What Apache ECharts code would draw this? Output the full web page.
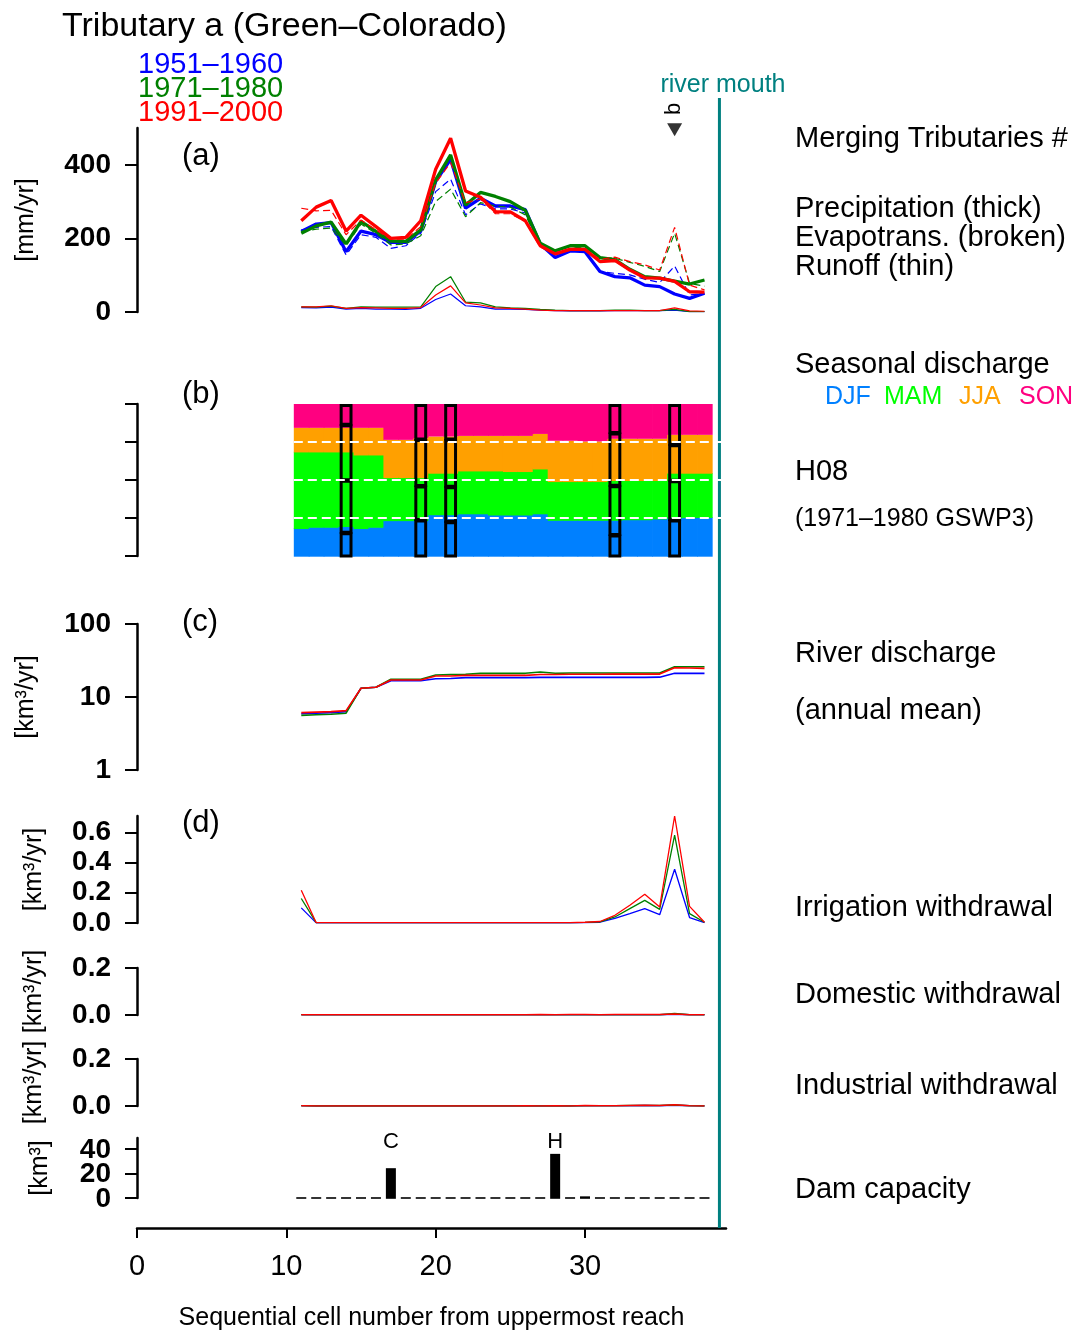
<!DOCTYPE html>
<html><head><meta charset="utf-8">
<script src="https://cdn.jsdelivr.net/npm/echarts@6/dist/echarts.min.js"></script>
<style>html,body{margin:0;padding:0;background:#fff}#c{width:1077px;height:1333px}</style>
</head><body><div id="c"></div>
<script>
// ---------------- DATA ----------------
const cells = [11,12,13,14,15,16,17,18,19,20,21,22,23,24,25,26,27,28,29,30,31,32,33,34,35,36,37,38];
const periods = ['1951–1960','1971–1980','1991–2000'];
const periodColors = ['#0000FF','#008000','#FF0000'];

// (a) precipitation [mm/yr]
const precip5160 = [219,239,243,164,220,210,189,189,220,355,415,282,309,288,288,278,185,148,166,164,110,96,93,73,69,49,37,51];
const precip7180 = [214,234,244,185,246,219,193,192,223,359,427,291,325,314,300,276,187,166,180,180,148,142,116,96,92,84,76,87];
const precip9100 = [248,285,303,220,263,232,200,203,248,388,472,329,312,273,272,248,180,158,170,170,137,140,114,93,92,83,55,54];
// (a) evapotranspiration [mm/yr]
const et5160 = [223,230,232,155,210,203,173,180,214,327,361,264,294,280,280,269,178,155,167,167,110,105,101,89,80,125,46,51];
const et7180 = [219,225,228,180,239,214,182,185,207,300,334,259,297,288,285,264,182,164,178,173,149,146,135,124,110,214,78,70];
const et9100 = [282,275,276,210,250,223,198,198,232,350,406,297,307,267,267,246,176,160,173,171,143,149,137,128,114,230,73,60];
// (a) runoff [mm/yr]
const runoff5160 = [12,11,13,8,10,8,8,7,10,34,49,17,14,8,8,7,5,4,3,3,3,4,4,4,4,5,1,1];
const runoff7180 = [14,13,16,10,14,13,13,13,14,69,96,27,25,14,11,10,7,5,4,4,4,5,5,4,4,7,1,1];
const runoff9100 = [14,14,17,10,12,11,10,10,12,46,71,25,19,11,10,8,5,4,4,4,4,4,4,4,4,11,3,2];

// (b) seasonal discharge shares (H08, 1971–1980 GSWP3)
const seasons = ['DJF','MAM','JJA','SON'];
const seasonColors = ['#0080FF','#00FF00','#FFA000','#FF0080'];
const shareDJF = [.183,.190,.190,.195,.183,.190,.234,.234,.234,.273,.273,.279,.279,.271,.271,.271,.279,.236,.236,.236,.236,.236,.240,.240,.245,.251,.255,.255];
const shareMAM = [.503,.496,.496,.491,.483,.476,.283,.283,.283,.273,.273,.282,.282,.290,.286,.286,.295,.255,.255,.255,.255,.262,.258,.258,.253,.295,.291,.291];
const shareJJA = [.157,.157,.157,.157,.177,.177,.247,.247,.258,.240,.240,.229,.229,.229,.233,.233,.229,.267,.267,.262,.262,.273,.273,.273,.273,.251,.251,.251];
const shareSON = [.157,.157,.157,.157,.157,.157,.236,.236,.225,.214,.214,.210,.210,.210,.210,.210,.197,.242,.242,.247,.247,.229,.229,.229,.229,.203,.203,.203];
// (b) observed shares at gauging cells (black boxes)
const obsCells = [14,19,21,32,36];
const obsDJF = [.157,.240,.229,.142,.240];
const obsMAM = [.345,.223,.230,.323,.258];
const obsJJA = [.365,.306,.310,.347,.238];
const obsSON = [.133,.231,.231,.188,.264];
const shareRefLines = [0.25,0.5,0.75];

// (c) river discharge [km3/yr]
const disch5160 = [5.9,6.0,6.1,6.3,13.2,13.6,16.7,16.7,16.7,17.8,17.9,18.4,18.4,18.4,18.4,18.4,18.6,18.6,18.6,18.6,18.6,18.6,18.6,18.6,18.7,21.1,21.1,21.1];
const disch7180 = [5.6,5.7,5.8,6.0,13.2,13.6,17.5,17.5,17.5,20.0,20.3,20.5,21.1,21.1,21.1,21.1,22.0,21.1,21.3,21.3,21.3,21.3,21.3,21.3,21.3,26.0,26.0,26.0];
const disch9100 = [6.1,6.2,6.3,6.5,13.2,13.6,17.1,17.1,17.1,19.4,19.4,19.8,19.8,19.8,19.8,19.8,20.3,20.3,20.5,20.5,20.5,20.6,20.6,20.6,20.6,25.2,25.0,24.7];

// (d) withdrawals [km3/yr]
const irr5160 = [0.100,0.001,0.001,0.001,0.001,0.001,0.001,0.001,0.001,0.001,0.001,0.001,0.001,0.001,0.001,0.001,0.001,0.001,0.001,0.002,0.005,0.030,0.062,0.095,0.055,0.356,0.036,0.003];
const irr7180 = [0.162,0.002,0.002,0.002,0.002,0.002,0.002,0.002,0.002,0.002,0.002,0.002,0.002,0.002,0.002,0.002,0.002,0.002,0.002,0.004,0.008,0.040,0.095,0.150,0.090,0.582,0.062,0.005];
const irr9100 = [0.217,0.002,0.002,0.002,0.002,0.002,0.002,0.002,0.002,0.002,0.002,0.002,0.002,0.002,0.002,0.002,0.002,0.002,0.002,0.005,0.010,0.051,0.117,0.190,0.106,0.708,0.110,0.005];
const dom5160 = [0.001,0.001,0.001,0.001,0.001,0.001,0.001,0.001,0.001,0.001,0.001,0.001,0.001,0.001,0.001,0.001,0.001,0.001,0.001,0.001,0.001,0.001,0.001,0.001,0.001,0.003,0.001,0.001];
const dom7180 = [0.001,0.001,0.001,0.001,0.001,0.001,0.001,0.001,0.001,0.001,0.001,0.001,0.001,0.001,0.001,0.001,0.001,0.001,0.001,0.001,0.001,0.001,0.001,0.001,0.001,0.006,0.001,0.001];
const dom9100 = [0.001,0.001,0.001,0.001,0.001,0.001,0.001,0.001,0.001,0.001,0.001,0.001,0.001,0.001,0.001,0.001,0.002,0.001,0.002,0.002,0.001,0.002,0.002,0.002,0.002,0.004,0.001,0.001];
const ind5160 = [0.001,0.000,0.000,0.000,0.000,0.000,0.000,0.000,0.000,0.000,0.000,0.000,0.000,0.000,0.000,0.000,0.000,0.000,0.000,0.001,0.001,0.001,0.001,0.002,0.001,0.003,0.001,0.000];
const ind7180 = [0.001,0.000,0.000,0.000,0.000,0.000,0.000,0.000,0.000,0.000,0.000,0.000,0.000,0.000,0.000,0.000,0.000,0.000,0.000,0.001,0.001,0.001,0.002,0.002,0.002,0.004,0.001,0.000];
const ind9100 = [0.001,0.000,0.000,0.000,0.000,0.000,0.000,0.000,0.000,0.000,0.000,0.000,0.000,0.000,0.000,0.001,0.000,0.001,0.000,0.002,0.001,0.001,0.002,0.003,0.002,0.005,0.001,0.000];

// Dam capacity [km3]
const damCap = [0,0,0,0,0,0,25,0,0,0,0,0,0,0,0,0,0,36.7,0,2.0,0,1.2,0,0,0,0,0,0];
const damNames = ['','','','','','','C','','','','','','','','','','','H','','','','','','','','','',''];

// Merging tributaries and river mouth
const mergeCells = [36];
const mergeLabels = ['b'];
const mouthCell = 39;

// Axis tick values
const xTicks = [0,10,20,30];
const ticksA = [0,200,400];
const ticksB = [0,0.25,0.5,0.75,1];
const ticksD = [0,0.2,0.4,0.6];
const ticksW = [0,0.2];
const ticksDam = [0,20,40];

// ---------------- LAYOUT ----------------
const FONT = 'Liberation Sans, Arial, Helvetica, sans-serif';
const X_MIN = 0, X_MAX = 39.44;
const LEFT = 137, WIDTH = 589;
const gridBoxes = [
  {top:128, height:184},   // 0 (a)
  {top:404, height:152},   // 1 (b)
  {top:624, height:146},   // 2 (c)
  {top:816, height:107},   // 3 (d) irrigation
  {top:968, height:47},    // 4 domestic
  {top:1059, height:47},   // 5 industrial
  {top:1138, height:60},   // 6 dam
  {top:98, height:1130}    // 7 overlay (river mouth + x axis)
];
const grids = gridBoxes.map(b => ({left:LEFT, width:WIDTH, top:b.top, height:b.height, outerBoundsMode:'none', containLabel:false}));

const xAxes = gridBoxes.map((b,i) => {
  if (i < 7) return {type:'value', gridIndex:i, min:X_MIN, max:X_MAX, show:false};
  return {
    type:'value', gridIndex:i, min:X_MIN, max:X_MAX, interval:10,
    axisLine:{show:true, onZero:false, lineStyle:{color:'#000', width:2.5}},
    axisTick:{show:true, length:10, lineStyle:{color:'#000', width:2}, customValues:xTicks},
    axisLabel:{fontSize:29, color:'#000', fontFamily:FONT, margin:24, customValues:xTicks},
    splitLine:{show:false},
    name:'Sequential cell number from uppermost reach', nameLocation:'middle', nameGap:78,
    nameTextStyle:{fontSize:25, color:'#000', fontFamily:FONT}
  };
});

const LABEL_FS = 28, LABEL_MARGIN = 26;
function yLabel(values, fmt) {
  const o = {fontSize:LABEL_FS, color:'#000', fontFamily:FONT, fontWeight:'bold', margin:LABEL_MARGIN,
             customValues:values, showMinLabel:true, showMaxLabel:true, hideOverlap:false};
  if (fmt) o.formatter = fmt;
  return o;
}
function yTick(values) {
  return {show:true, length:12, lineStyle:{color:'#000', width:2}, customValues:values};
}
function yAx(i, opt) {
  const base = {
    type:'value', gridIndex:i,
    axisLine:{show:true, lineStyle:{color:'#000', width:2.5}},
    axisTick:{show:true, length:12, lineStyle:{color:'#000', width:2}},
    axisLabel:{fontSize:LABEL_FS, color:'#000', fontFamily:FONT, fontWeight:'bold', margin:LABEL_MARGIN},
    splitLine:{show:false},
    nameLocation:'middle', nameRotate:90,
    nameTextStyle:{fontSize:25, color:'#000', fontFamily:FONT}
  };
  return Object.assign(base, opt);
}
const fmt1 = v => Number(v).toFixed(1);
const yAxes = [
  yAx(0, {min:0, max:500, name:'[mm/yr]', nameGap:98, axisTick:yTick(ticksA), axisLabel:yLabel(ticksA)}),
  yAx(1, {min:0, max:1, axisTick:yTick(ticksB), axisLabel:{show:false}}),
  yAx(2, {type:'log', logBase:10, min:1, max:100, name:'[km³/yr]', nameGap:98, minorTick:{show:false}}),
  yAx(3, {min:0, max:0.708, name:'[km³/yr]', nameGap:90, axisTick:yTick(ticksD), axisLabel:yLabel(ticksD, fmt1)}),
  yAx(4, {min:0, max:0.2, name:'[km³/yr]', nameGap:90, axisTick:yTick(ticksW), axisLabel:yLabel(ticksW, fmt1)}),
  yAx(5, {min:0, max:0.2, name:'[km³/yr]', nameGap:90, axisTick:yTick(ticksW), axisLabel:yLabel(ticksW, fmt1)}),
  // dam labels overlap in the original, so they are drawn as texts placed through this axis below
  yAx(6, {min:0, max:49, name:'[km³]', nameGap:84, axisTick:yTick(ticksDam), axisLabel:{show:false}}),
  {type:'value', gridIndex:7, min:0, max:1, show:false}
];

// ---------------- SERIES ----------------
const pairs = arr => cells.map((c,i) => [c, arr[i]]);
function line(gi, arr, color, width, dashed, z) {
  return {type:'line', xAxisIndex:gi, yAxisIndex:gi, data:pairs(arr), symbol:'none', silent:true,
          animation:false, z:z||2,
          lineStyle:{color:color, width:width, type: dashed ? [7,4] : 'solid'}};
}
const series = [];
const precip = [precip5160, precip7180, precip9100];
const et = [et5160, et7180, et9100];
const runoff = [runoff5160, runoff7180, runoff9100];
const disch = [disch5160, disch7180, disch9100];
const irr = [irr5160, irr7180, irr9100];
const dom = [dom5160, dom7180, dom9100];
const ind = [ind5160, ind7180, ind9100];
for (let p = 0; p < 3; p++) {
  const col = periodColors[p];
  series.push(line(0, et[p], col, 1.2, true));
  series.push(line(0, runoff[p], col, 1.2, false));
  series.push(line(0, precip[p], col, 3.3, false));
}
for (let p = 0; p < 3; p++) series.push(line(2, disch[p], periodColors[p], 1.6, false));
for (let p = 0; p < 3; p++) series.push(line(3, irr[p], periodColors[p], 1.3, false));
for (let p = 0; p < 3; p++) series.push(line(4, dom[p], periodColors[p], 1.6, false));
for (let p = 0; p < 3; p++) series.push(line(5, ind[p], periodColors[p], 1.6, false));

// (b) stacked seasonal shares
series.push({
  type:'custom', xAxisIndex:1, yAxisIndex:1, silent:true, animation:false, z:2,
  data: cells.map((c,i) => [c, shareDJF[i], shareMAM[i], shareJJA[i], shareSON[i]]),
  renderItem: (params, api) => {
    const c = api.value(0);
    let base = 0; const children = [];
    for (let k = 0; k < 4; k++) {
      const v = api.value(k+1);
      const top = Math.min(1, base + v);
      const p1 = api.coord([c-0.5, top]);
      const p0 = api.coord([c+0.5, base]);
      children.push({type:'rect', shape:{x:p1[0], y:p1[1], width:p0[0]-p1[0]+0.7, height:p0[1]-p1[1]+(k<3?0.7:0)},
                     style:{fill:seasonColors[k]}});
      base += v;
    }
    return {type:'group', children};
  }
});
// (b) observed boxes
series.push({
  type:'custom', xAxisIndex:1, yAxisIndex:1, silent:true, animation:false, z:4,
  data: obsCells.map((c,i) => [c, obsDJF[i], obsMAM[i], obsJJA[i], obsSON[i]]),
  renderItem: (params, api) => {
    const c = api.value(0);
    let base = 0; const children = [];
    for (let k = 0; k < 4; k++) {
      const v = api.value(k+1);
      const top = Math.min(1, base + v);
      const p1 = api.coord([c-0.33, top]);
      const p0 = api.coord([c+0.33, base]);
      children.push({type:'rect', shape:{x:p1[0], y:p1[1]+1.5, width:p0[0]-p1[0], height:p0[1]-p1[1]-1.5},
                     style:{fill:'none', stroke:'#000', lineWidth:3}});
      base += v;
    }
    return {type:'group', children};
  }
});
// (b) white dashed reference lines
shareRefLines.forEach(v => {
  series.push({type:'line', xAxisIndex:1, yAxisIndex:1, symbol:'none', silent:true, animation:false, z:6,
               data:[[cells[0]-0.5, v],[X_MAX, v]],
               lineStyle:{color:'#FFFFFF', width:2, type:[9,5]}});
});

// Dam capacity bars (zero cells drawn as short dashes)
series.push({
  type:'custom', xAxisIndex:6, yAxisIndex:6, silent:true, animation:false, z:3,
  data: cells.map((c,i) => [c, damCap[i]]),
  renderItem: (params, api) => {
    const c = api.value(0), v = api.value(1);
    const p0 = api.coord([c, 0]);
    const p1 = api.coord([c, v]);
    const h = Math.max(1.6, p0[1]-p1[1]);
    const children = [{type:'rect', shape:{x:p0[0]-5, y:p0[1]-h+0.8, width:10, height:h}, style:{fill:'#000'}}];
    const nm = damNames[params.dataIndex];
    if (nm) {
      const pl = api.coord([c, 47.6]);
      children.push({type:'text', style:{text:nm, x:pl[0], y:pl[1]+2, align:'center', verticalAlign:'middle',
                     fontSize:22, fontFamily:FONT, fill:'#000'}});
    }
    return {type:'group', children};
  }
});

// merging tributary marker
series.push({
  type:'scatter', xAxisIndex:0, yAxisIndex:0, silent:true, animation:false, z:5,
  data: mergeCells.map((c,i) => ({value:[c, 495], name:mergeLabels[i]})),
  symbol:'triangle', symbolRotate:180, symbolSize:[15,13], itemStyle:{color:'#000'},
  label:{show:false}
});

// river mouth line
series.push({
  type:'line', xAxisIndex:7, yAxisIndex:7, symbol:'none', silent:true, animation:false, z:3,
  data:[[mouthCell, 0],[mouthCell, 1]], lineStyle:{color:'#008080', width:3}
});

// ---------------- TEXT ----------------
const txt = (text, x, y, size, color, align) => ({type:'text', x:x, y:y, silent:true,
  style:{text:text, fontSize:size, fontFamily:FONT, fill:color||'#000', align:align||'left', verticalAlign:'middle'}});
const graphics = [
  txt('Tributary a (Green–Colorado)', 62, 27, 34),
  txt(periods[0], 138, 65, 29, periodColors[0]),
  txt(periods[1], 138, 89, 29, periodColors[1]),
  txt(periods[2], 138, 113, 29, periodColors[2]),
  txt('river mouth', 723, 85, 25, '#008080', 'center'),
  txt('(a)', 182, 156, 31),
  txt('(b)', 182, 394, 31),
  txt('(c)', 182, 622, 31),
  txt('(d)', 182, 823, 31),
  txt('Merging Tributaries #', 795, 139, 29),
  txt('Precipitation (thick)', 795, 209, 29),
  txt('Evapotrans. (broken)', 795, 238, 29),
  txt('Runoff (thin)', 795, 267, 29),
  txt('Seasonal discharge', 795, 365, 29),
  txt(seasons[0], 825, 397, 25, seasonColors[0]),
  txt(seasons[1], 884, 397, 25, seasonColors[1]),
  txt(seasons[2], 959, 397, 25, seasonColors[2]),
  txt(seasons[3], 1019, 397, 25, seasonColors[3]),
  txt('H08', 795, 472, 29),
  txt('(1971–1980 GSWP3)', 795, 519, 25),
  txt('River discharge', 795, 654, 29),
  txt('(annual mean)', 795, 711, 29),
  txt('Irrigation withdrawal', 795, 908, 29),
  txt('Domestic withdrawal', 795, 995, 29),
  txt('Industrial withdrawal', 795, 1086, 29),
  txt('Dam capacity', 795, 1190, 29)
];

const chart = echarts.init(document.getElementById('c'), null, {renderer:'canvas'});
chart.setOption({
  backgroundColor:'#fff',
  animation:false,
  textStyle:{fontFamily:FONT},
  grid:grids, xAxis:xAxes, yAxis:yAxes, series:series, graphic:graphics
});
// rotated tributary labels placed above their markers (via the axis scale)
mergeCells.forEach((c, i) => {
  const p = chart.convertToPixel({xAxisIndex:0, yAxisIndex:0}, [c, 495]);
  graphics.push({type:'text', x:p[0] - 1, y:p[1] - 21, rotation:Math.PI/2, silent:true,
    style:{text:mergeLabels[i], fontSize:22, fontFamily:FONT, fill:'#000', align:'center', verticalAlign:'middle'}});
});
// dam-capacity tick labels (tightly packed, overlapping like the original)
ticksDam.forEach(v => {
  const p = chart.convertToPixel({xAxisIndex:6, yAxisIndex:6}, [0, v]);
  graphics.push({type:'text', x:LEFT - LABEL_MARGIN, y:p[1] + 1, silent:true,
    style:{text:String(v), fontSize:LABEL_FS, fontWeight:'bold', fontFamily:FONT, fill:'#000', align:'right', verticalAlign:'middle'}});
});
chart.setOption({graphic:graphics});
</script></body></html>
